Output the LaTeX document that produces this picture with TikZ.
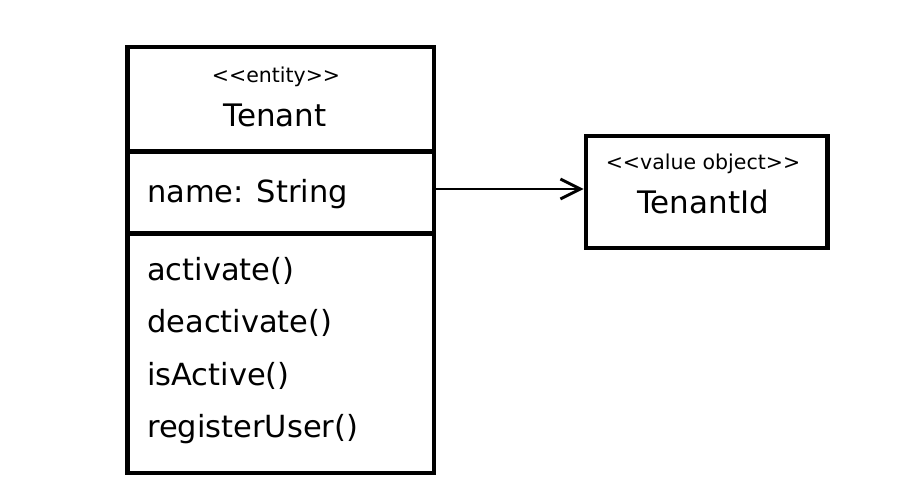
\documentclass[tikz,border=0pt]{standalone}
\usepackage{fontspec}
\setmainfont{DejaVu Sans}
\usetikzlibrary{arrows.meta}
\begin{document}
\begin{tikzpicture}[x=1pt,y=-1pt,
  box/.style={draw=black,line width=4.5pt,rectangle,inner sep=0pt,anchor=north west},
  stereo/.style={inner sep=0pt,anchor=base,font=\fontsize{20.5}{22}\selectfont},
  cname/.style={inner sep=0pt,anchor=base,font=\fontsize{31}{34}\selectfont},
  member/.style={inner sep=0pt,anchor=base west,font=\fontsize{30.5}{34}\selectfont},
  assoc/.style={line width=2.8pt,-{Straight Barb[length=20pt,width=20pt,line width=2.8pt]}}]
\useasboundingbox[fill=white] (0,0) rectangle (897,486);
% Tenant class
\node[box,minimum width=306.5pt,minimum height=104.5pt] (head) at (125,45) {};
\node[box,minimum width=306.5pt,minimum height=82pt] (attr) at (125,149.5) {};
\node[box,minimum width=306.5pt,minimum height=239pt] (ops) at (125,231.5) {};
\node[stereo] (st1) at (276,83) {<\kern0pt<entity>\kern0pt>};
\node[cname] (tn) at (275,127) {Tenant};
\node[member] (m0) at (147,203) {name: String};
\node[member] (m1) at (147,281) {activate()};
\node[member] (m2) at (147,333) {deactivate()};
\node[member] (m3) at (147,385) {isActive()};
\node[member] (m4) at (147,437) {registerUser()};
% TenantId
\node[box,minimum width=241.5pt,minimum height=112pt] (tid) at (583.5,134) {};
\node[stereo] (st2) at (703,170) {<\kern0pt<value object>\kern0pt>};
\node[cname] (tidn) at (703,214) {TenantId};
% association
\draw[assoc] (attr.east |- 0,189) -- (tid.west |- 0,189);
\end{tikzpicture}
\end{document}
